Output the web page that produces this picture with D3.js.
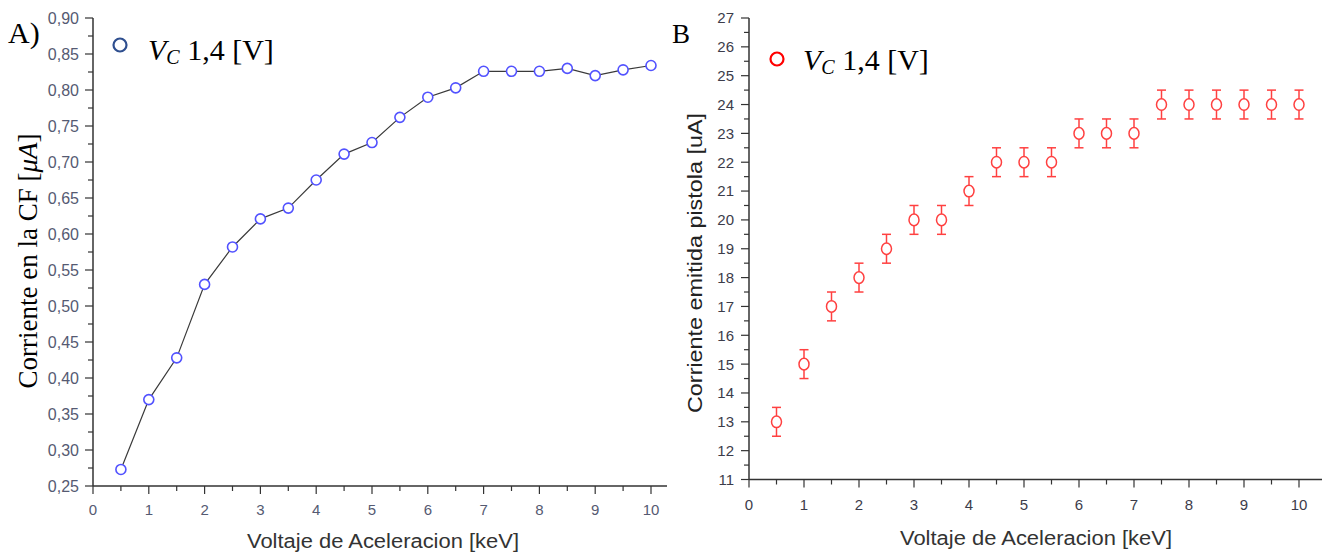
<!DOCTYPE html>
<html><head><meta charset="utf-8">
<script src="https://cdn.jsdelivr.net/npm/d3@7"></script>
<style>body{margin:0;background:#fff;} svg{display:block;}</style>
</head><body>
<svg id="c" width="1330" height="555"></svg>
<script>
// ---- data ----
const voltage = [0.5,1,1.5,2,2.5,3,3.5,4,4.5,5,5.5,6,6.5,7,7.5,8,8.5,9,9.5,10];
const currentCF = [0.273,0.370,0.428,0.530,0.582,0.621,0.636,0.675,0.711,0.727,0.762,0.790,0.803,0.826,0.826,0.826,0.830,0.820,0.828,0.834];
const currentGun = [13,15,17,18,19,20,20,21,22,22,22,23,23,23,24,24,24,24,24,24];
const currentGunErr = [0.5,0.5,0.5,0.5,0.5,0.5,0.5,0.5,0.5,0.5,0.5,0.5,0.5,0.5,0.5,0.5,0.5,0.5,0.5,0.5];
const xTicks = [0,1,2,3,4,5,6,7,8,9,10];
const leftYTicks = [0.25,0.30,0.35,0.40,0.45,0.50,0.55,0.60,0.65,0.70,0.75,0.80,0.85,0.90];
const rightYTicks = [11,12,13,14,15,16,17,18,19,20,21,22,23,24,25,26,27];
const xTitle = "Voltaje de Aceleracion [keV]";
const leftYTitle = "Corriente en la CF [";
const rightYTitle = "Corriente emitida pistola [uA]";
const legendLabel = " 1,4 [V]";

const svg = d3.select("#c");
const sans = "'Liberation Sans', Arial, sans-serif";
const serif = "'Liberation Serif', 'Times New Roman', serif";

function minorTicks(a, b, step){ const r=[]; for(let v=a; v<=b+1e-9; v+=step) r.push(+v.toFixed(4)); return r; }

function drawAxes(g, x, y, xMax, yTicksArr, yMinorStep, fmtY, opt){
  const [y0] = y.range();
  g.append("line").attr("x1", x(0)).attr("x2", xMax).attr("y1", y0).attr("y2", y0)
    .attr("stroke","#333").attr("stroke-width",1.5);
  g.append("line").attr("x1", x(0)).attr("x2", x(0)).attr("y1", y0).attr("y2", y(yTicksArr[yTicksArr.length-1]))
    .attr("stroke","#333").attr("stroke-width",1.5);
  g.selectAll(null).data(xTicks).join("line")
    .attr("x1", d=>x(d)).attr("x2", d=>x(d)).attr("y1", y0).attr("y2", y0+8)
    .attr("stroke","#333").attr("stroke-width",1.2);
  g.selectAll(null).data(xTicks.slice(0,-1).map(d=>d+0.5)).join("line")
    .attr("x1", d=>x(d)).attr("x2", d=>x(d)).attr("y1", y0).attr("y2", y0+5)
    .attr("stroke","#333").attr("stroke-width",1.2);
  g.selectAll(null).data(xTicks).join("text")
    .attr("x", d=>x(d)).attr("y", y0+opt.xLabDy).attr("text-anchor","middle")
    .attr("font-family", sans).attr("font-size",opt.xFont).attr("fill",opt.color).text(d=>d);
  g.selectAll(null).data(yTicksArr).join("line")
    .attr("x1", x(0)-8).attr("x2", x(0)).attr("y1", d=>y(d)).attr("y2", d=>y(d))
    .attr("stroke","#333").attr("stroke-width",1.2);
  const lo = yTicksArr[0], hi = yTicksArr[yTicksArr.length-1];
  const minors = minorTicks(lo, hi, yMinorStep).filter(v => !yTicksArr.some(t=>Math.abs(t-v)<1e-6));
  g.selectAll(null).data(minors).join("line")
    .attr("x1", x(0)-5).attr("x2", x(0)).attr("y1", d=>y(d)).attr("y2", d=>y(d))
    .attr("stroke","#333").attr("stroke-width",1.2);
  g.selectAll(null).data(yTicksArr).join("text")
    .attr("x", x(0)-opt.yLabGap).attr("y", d=>y(d)+opt.yFont*0.36).attr("text-anchor","end")
    .attr("font-family", sans).attr("font-size",opt.yFont).attr("fill",opt.color).text(fmtY);
}

function legend(g, cx, cy, color, tx, ty){
  g.append("circle").attr("cx",cx).attr("cy",cy).attr("r",6.5).attr("fill","none").attr("stroke",color).attr("stroke-width",2.2);
  const lt = g.append("text").attr("x",tx).attr("y",ty).attr("font-family",serif).attr("font-size",30).attr("fill","#000");
  lt.append("tspan").attr("font-style","italic").text("V");
  lt.append("tspan").attr("font-style","italic").attr("font-size",20).attr("dy",4).text("C");
  lt.append("tspan").attr("dy",-4).text(legendLabel);
}

// ---------- Left chart ----------
{
  const g = svg.append("g");
  const x = d3.scaleLinear().domain([0,10]).range([93,651]);
  const y = d3.scaleLinear().domain([0.25,0.90]).range([486,18]);
  drawAxes(g, x, y, 667, leftYTicks, 0.025, d=>d.toFixed(2).replace(".",","),
    {color:"#555a72", xFont:15, yFont:16, xLabDy:29, yLabGap:14});

  const line = d3.line().x((d,i)=>x(voltage[i])).y(d=>y(d));
  g.append("path").datum(currentCF).attr("d", line).attr("fill","none")
    .attr("stroke","#3a3a3a").attr("stroke-width",1.2);
  g.selectAll(null).data(currentCF).join("circle")
    .attr("cx",(d,i)=>x(voltage[i])).attr("cy", d=>y(d)).attr("r",5)
    .attr("fill","#fff").attr("stroke","#5252ff").attr("stroke-width",1.6);

  g.append("text").attr("x", 383).attr("y", 548).attr("text-anchor","middle")
    .attr("font-family", sans).attr("font-size",20).attr("fill","#333")
    .attr("textLength",272).attr("lengthAdjust","spacingAndGlyphs").text(xTitle);

  const yt = g.append("text").attr("transform","translate(37,261) rotate(-90)").attr("text-anchor","middle")
    .attr("font-family", serif).attr("font-size",27).attr("fill","#000");
  yt.append("tspan").text(leftYTitle);
  yt.append("tspan").attr("font-style","italic").text("μA");
  yt.append("tspan").text("]");

  g.append("text").attr("x",8).attr("y",43).attr("font-family",serif).attr("font-size",30).attr("fill","#000").text("A)");
  legend(g, 120, 45, "#2f4f8f", 148, 60);
}

// ---------- Right chart ----------
{
  const g = svg.append("g");
  const x = d3.scaleLinear().domain([0,10]).range([749,1299]);
  const y = d3.scaleLinear().domain([11,27]).range([479.5,18]);
  drawAxes(g, x, y, 1322, rightYTicks, 0.5, d=>d,
    {color:"#3c3c4a", xFont:15, yFont:15, xLabDy:30, yLabGap:15});

  const red = "#ff4040";
  const pts = g.selectAll(null).data(currentGun).join("g");
  pts.append("line").attr("x1",(d,i)=>x(voltage[i])).attr("x2",(d,i)=>x(voltage[i]))
    .attr("y1",(d,i)=>y(d+currentGunErr[i])).attr("y2",(d,i)=>y(d-currentGunErr[i]))
    .attr("stroke",red).attr("stroke-width",1.5);
  pts.append("line").attr("x1",(d,i)=>x(voltage[i])-4.5).attr("x2",(d,i)=>x(voltage[i])+4.5)
    .attr("y1",(d,i)=>y(d+currentGunErr[i])).attr("y2",(d,i)=>y(d+currentGunErr[i]))
    .attr("stroke",red).attr("stroke-width",1.5);
  pts.append("line").attr("x1",(d,i)=>x(voltage[i])-4.5).attr("x2",(d,i)=>x(voltage[i])+4.5)
    .attr("y1",(d,i)=>y(d-currentGunErr[i])).attr("y2",(d,i)=>y(d-currentGunErr[i]))
    .attr("stroke",red).attr("stroke-width",1.5);
  pts.append("ellipse").attr("cx",(d,i)=>x(voltage[i])).attr("cy",d=>y(d)).attr("rx",5).attr("ry",5.8)
    .attr("fill","#fff").attr("stroke",red).attr("stroke-width",1.5);

  g.append("text").attr("x", 1036).attr("y", 545).attr("text-anchor","middle")
    .attr("font-family", sans).attr("font-size",20).attr("fill","#333")
    .attr("textLength",272).attr("lengthAdjust","spacingAndGlyphs").text(xTitle);
  g.append("text").attr("transform","translate(702,263) rotate(-90)").attr("text-anchor","middle")
    .attr("font-family", sans).attr("font-size",21).attr("fill","#222")
    .attr("textLength",300).attr("lengthAdjust","spacingAndGlyphs").text(rightYTitle);

  g.append("text").attr("x",672).attr("y",43).attr("font-family",serif).attr("font-size",27).attr("fill","#000").text("B");
  legend(g, 777, 59, "#ff0000", 803, 70);
}
</script>
</body></html>
